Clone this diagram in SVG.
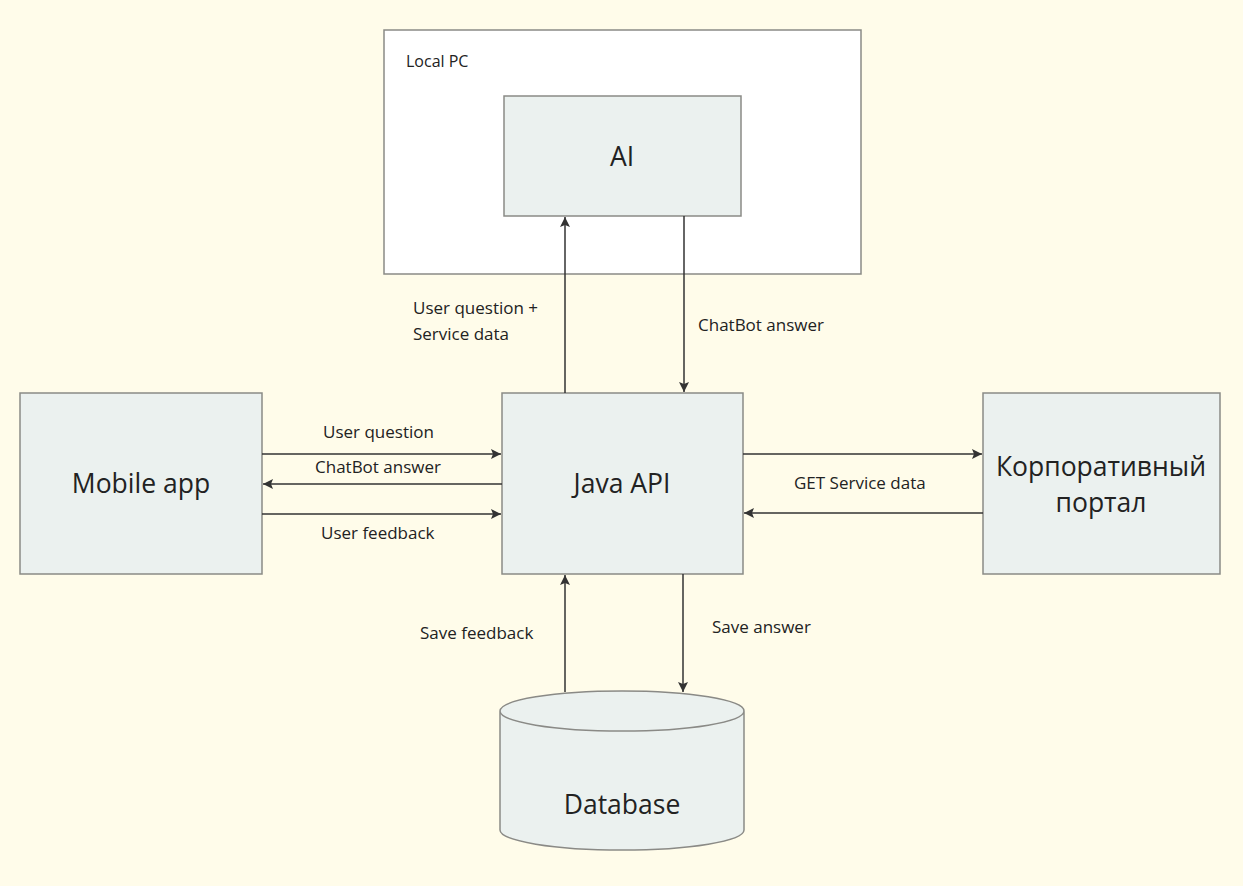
<svg xmlns="http://www.w3.org/2000/svg" width="1243" height="886" viewBox="0 0 1243 886">
<defs>
<marker id="ah" viewBox="0 0 10 10" refX="10" refY="5" markerWidth="10" markerHeight="10" markerUnits="userSpaceOnUse" orient="auto"><path d="M0,0 L10,5 L0,10 L2,5 Z" fill="#333"/></marker>
<style>
.n{fill:#ebf1ef;stroke:#8a8a86;stroke-width:1.5}
.c{stroke:#333;stroke-width:1.5;fill:none;marker-end:url(#ah)}
text{font-family:"Open Sans","Noto Sans",sans-serif;fill:#222}
.l{font-size:17px}
.b{font-size:26.5px;text-anchor:middle}
</style>
</defs>
<rect width="1243" height="886" fill="#fffcea"/>
<g id="localpc"><rect x="384" y="30" width="477" height="244" fill="#fff" stroke="#8a8a86" stroke-width="1.5"/><text class="l" x="406" y="67" style="font-size:16px">Local PC</text></g>
<g id="ai"><rect class="n" x="504" y="96" width="237" height="120"/><text class="b" x="622" y="166">AI</text></g>
<g id="java"><rect class="n" x="502" y="393" width="241" height="181"/><text class="b" x="622" y="493">Java API</text></g>
<g id="mobile"><rect class="n" x="20" y="393" width="242" height="181"/><text class="b" x="141" y="493">Mobile app</text></g>
<g id="portal"><rect class="n" x="983" y="393" width="237" height="181"/><text class="b" x="1101" y="476">Корпоративный</text><text class="b" x="1101" y="512">портал</text></g>
<g id="db"><path class="n" d="M500,711 L500,830 A122,20 0 0 0 744,830 L744,711 A122,20 0 0 0 500,711 A122,20 0 0 0 744,711"/><text class="b" x="622" y="814">Database</text></g>
<g id="connectors">
<path class="c" d="M565,393 L565,217"/>
<path class="c" d="M684,216 L684,392"/>
<path class="c" d="M262,454 L501,454"/>
<path class="c" d="M502,484 L263,484"/>
<path class="c" d="M262,514 L501,514"/>
<path class="c" d="M743,454 L982,454"/>
<path class="c" d="M983,513 L744,513"/>
<path class="c" d="M565,692 L565,575"/>
<path class="c" d="M683,574 L683,692"/>
<text class="l" x="413" y="314">User question +</text>
<text class="l" x="413" y="340">Service data</text>
<text class="l" x="698" y="331">ChatBot answer</text>
<text class="l" x="323" y="438">User question</text>
<text class="l" x="315" y="473">ChatBot answer</text>
<text class="l" x="321" y="539">User feedback</text>
<text class="l" x="794" y="489">GET Service data</text>
<text class="l" x="420" y="639">Save feedback</text>
<text class="l" x="712" y="633">Save answer</text>
</g>
</svg>
